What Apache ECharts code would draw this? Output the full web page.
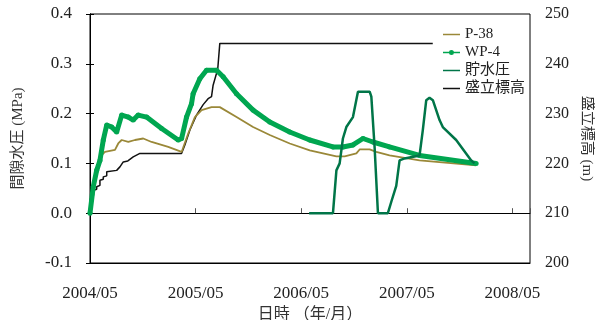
<!DOCTYPE html>
<html>
<head>
<meta charset="utf-8">
<script src="https://cdn.jsdelivr.net/npm/echarts@6/dist/echarts.min.js"></script>
<style>html,body{margin:0;padding:0;background:#fff}#c{width:595px;height:320px}</style>
</head>
<body>
<div id="c"></div>
<script>
// x values are months elapsed since 2004/05
const xTickLabels = ['2004/05','2005/05','2006/05','2007/05','2008/05'];
const seriesNames = ['P-38','WP-4','貯水圧','盛立標高'];

const p38Months = [0,0.4,0.8,1.13,1.7,2.84,3.21,3.6,4.35,5.11,6.05,7.0,8.89,10.41,11.16,11.92,12.68,13.81,14.75,16.65,18.53,20.43,22.7,24.97,28.0,28.94,30.27,30.64,31.78,32.53,34.04,37.45,43.88];
const p38Values = [0,0.05,0.085,0.113,0.123,0.127,0.14,0.147,0.143,0.147,0.15,0.143,0.133,0.123,0.16,0.193,0.207,0.213,0.213,0.193,0.173,0.157,0.14,0.126,0.114,0.114,0.12,0.128,0.128,0.123,0.116,0.106,0.096];

const wp4Months = [0,0.37,0.76,1.13,1.51,1.9,2.46,3.03,3.6,4.35,4.91,5.48,6.43,8.14,10.02,10.41,10.97,11.54,11.72,12.48,13.24,14.38,15.13,16.65,18.53,20.43,22.7,24.97,27.61,28.74,29.88,31.02,32.15,34.04,37.45,43.88];
const wp4Values = [0,0.053,0.086,0.106,0.147,0.177,0.173,0.163,0.197,0.193,0.187,0.197,0.193,0.17,0.147,0.15,0.193,0.22,0.24,0.27,0.287,0.287,0.274,0.24,0.207,0.183,0.163,0.147,0.133,0.133,0.137,0.15,0.143,0.133,0.116,0.1];

const reservoirMonths = [24.9,27.61,28.0,28.37,28.74,29.13,29.88,30.45,31.78,31.97,32.34,32.72,33.85,34.24,34.8,35.18,35.75,37.45,37.82,38.21,38.58,38.96,39.72,40.09,41.61,43.32,43.69];
const reservoirValues = [210,210,218.6,220,225,227.3,229.3,234.4,234.4,233.4,223.3,210,210,212.3,215.5,220.6,221,221.6,226.7,232.7,233.2,232.7,228.7,227.3,224.7,220.6,220];

const fillMonths = [0,0.1,0.4,0.4,0.76,0.76,1.13,1.13,1.51,1.51,1.9,1.9,3.03,3.03,3.4,3.78,4.3,4.91,5.67,10.4,10.78,11.35,12.1,12.86,13.42,13.81,13.99,14.38,14.5,14.75,38.95];
const fillValues = [212.4,213.2,213.6,214.6,214.8,215.3,215.6,216.6,216.8,217.3,217.5,218.3,218.6,219.0,219.3,220.3,220.5,221.3,222.0,222.0,223.7,226.7,229.7,231.8,233.0,233.4,235.7,238.1,238.6,244.1,244.1];

const zip = (a, b) => a.map((m, i) => [m, b[i]]);
const FONT = '"Liberation Serif", "Noto Sans CJK JP", serif';
const LINE_ICON = 'path://M0,0H34V3H0Z';
const DOT_ICON = 'path://M0,4H34V7H0Z M17,0.5A5,5 0 1,1 16.99,0.5Z';

const chart = echarts.init(document.getElementById('c'), null, {renderer: 'canvas'});
chart.setOption({
  animation: false,
  backgroundColor: '#fff',
  textStyle: {fontFamily: FONT},
  grid: {left: 90, right: 65, top: 14, bottom: 57, show: true, borderColor: '#000', borderWidth: 1,
    containLabel: false, outerBoundsMode: 'none'},
  legend: {
    orient: 'vertical', left: 438, top: 22, itemGap: 3, itemWidth: 17, itemHeight: 15,
    symbolKeepAspect: true,
    textStyle: {fontFamily: FONT, fontSize: 15, color: '#222'},
    data: [
      {name: seriesNames[0], icon: LINE_ICON},
      {name: seriesNames[1], icon: DOT_ICON},
      {name: seriesNames[2], icon: LINE_ICON},
      {name: seriesNames[3], icon: LINE_ICON}
    ]
  },
  xAxis: [{
    type: 'value', min: 0, max: 50, interval: 12,
    name: '日時 （年/月）', nameLocation: 'middle', nameGap: 38,
    nameTextStyle: {fontFamily: FONT, fontSize: 16, color: '#333'},
    axisLine: {onZero: false, lineStyle: {color: '#000'}},
    axisTick: {show: false}, splitLine: {show: false},
    axisLabel: {fontFamily: FONT, fontSize: 17, color: '#222', margin: 22, showMaxLabel: false,
      formatter: v => xTickLabels[Math.round(v / 12)] || ''}
  }, {
    type: 'value', min: 0, max: 50, interval: 12, position: 'bottom',
    axisLine: {onZero: true, onZeroAxisIndex: 0, lineStyle: {color: '#000'}},
    axisTick: {show: true, inside: true, length: 5, lineStyle: {color: '#555'}},
    axisLabel: {show: false}, splitLine: {show: false}
  }],
  yAxis: [{
    type: 'value', min: -0.1, max: 0.4, interval: 0.1,
    name: '間隙水圧 (MPa)', nameLocation: 'middle', nameGap: 64, nameRotate: 90,
    nameTextStyle: {fontFamily: FONT, fontSize: 15, color: '#333'},
    axisLine: {show: true, lineStyle: {color: '#000'}},
    axisTick: {show: true, inside: true, length: 4, lineStyle: {color: '#000'}},
    splitLine: {show: false},
    axisLabel: {fontFamily: FONT, fontSize: 17, color: '#222', margin: 18, formatter: v => v.toFixed(1)}
  }, {
    type: 'value', min: 200, max: 250, interval: 10, position: 'right',
    name: '盛立標高 (m)', nameLocation: 'middle', nameGap: 41, nameRotate: -90,
    nameTextStyle: {fontFamily: FONT, fontSize: 15, color: '#333'},
    axisLine: {show: true, lineStyle: {color: '#000'}},
    axisTick: {show: true, inside: true, length: 4, lineStyle: {color: '#000'}},
    splitLine: {show: false},
    axisLabel: {fontFamily: FONT, fontSize: 16, color: '#222', margin: 15}
  }],
  series: [
    {name: seriesNames[0], type: 'line', xAxisIndex: 0, yAxisIndex: 0, data: zip(p38Months, p38Values),
      showSymbol: false, symbol: 'none', lineStyle: {color: '#9a8838', width: 1.8}, itemStyle: {color: '#9a8838'}, z: 3},
    {name: seriesNames[1], type: 'line', xAxisIndex: 0, yAxisIndex: 0, data: zip(wp4Months, wp4Values),
      symbol: 'circle', symbolSize: 5, showSymbol: true,
      lineStyle: {color: '#00a650', width: 5}, itemStyle: {color: '#00a650'}, z: 4},
    {name: seriesNames[2], type: 'line', xAxisIndex: 0, yAxisIndex: 1, data: zip(reservoirMonths, reservoirValues),
      showSymbol: false, symbol: 'none', lineStyle: {color: '#007548', width: 2.5}, itemStyle: {color: '#007548'}, z: 5},
    {name: seriesNames[3], type: 'line', xAxisIndex: 0, yAxisIndex: 1, data: zip(fillMonths, fillValues),
      showSymbol: false, symbol: 'none', lineStyle: {color: '#111', width: 1.5}, itemStyle: {color: '#111'}, z: 2}
  ]
});
</script>
</body>
</html>
